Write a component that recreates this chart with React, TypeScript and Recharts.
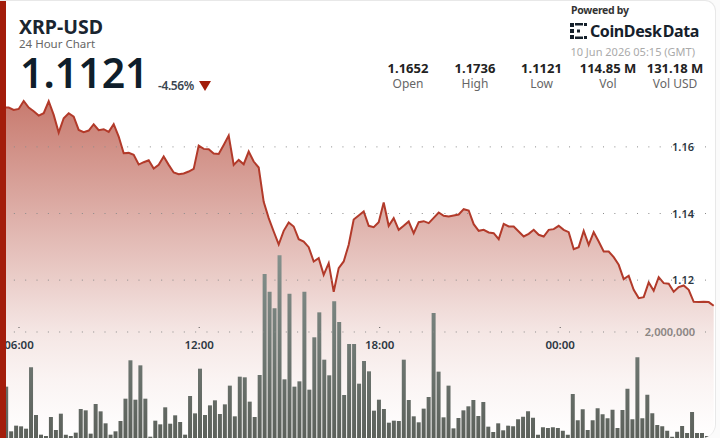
import React from 'react';
import {
  ComposedChart,
  Area,
  Bar,
  XAxis,
  YAxis,
  ReferenceLine,
} from 'recharts';

const prices = [
  1.1718, 1.1711, 1.1714, 1.1738, 1.1718, 1.1707, 1.1694, 1.1701, 1.1737, 1.1696,
  1.1643, 1.1686, 1.1701, 1.1691, 1.1651, 1.1644, 1.1649, 1.1668, 1.165, 1.1653,
  1.1645, 1.1668, 1.1631, 1.1581, 1.1582, 1.1576, 1.1547, 1.1554, 1.156, 1.1535,
  1.1546, 1.1571, 1.1546, 1.1523, 1.1518, 1.152, 1.1526, 1.1534, 1.1604, 1.1594,
  1.1593, 1.158, 1.1579, 1.1606, 1.1634, 1.1546, 1.1561, 1.1548, 1.1586, 1.1556,
  1.1538, 1.1435, 1.1386, 1.1346, 1.1307, 1.1348, 1.1373, 1.1361, 1.1323, 1.1316,
  1.1299, 1.1256, 1.1266, 1.1216, 1.1251, 1.1165, 1.1236, 1.1256, 1.1306, 1.1382,
  1.1394, 1.1406, 1.1363, 1.1359, 1.1374, 1.1433, 1.1363, 1.1386, 1.1351, 1.1363,
  1.1376, 1.1341, 1.1374, 1.1377, 1.1371, 1.1387, 1.1403, 1.1393, 1.1391, 1.1394,
  1.1397, 1.1413, 1.1409, 1.1368, 1.1348, 1.1351, 1.1343, 1.1341, 1.1323, 1.1369,
  1.1361, 1.1361, 1.1346, 1.1331, 1.1339, 1.1351, 1.1336, 1.1331, 1.1351, 1.1353,
  1.1363, 1.1351, 1.1344, 1.1293, 1.1299, 1.1348, 1.1306, 1.1344, 1.1316, 1.1286,
  1.1286, 1.1269, 1.1246, 1.1203, 1.1213, 1.1171, 1.1146, 1.1149, 1.1193, 1.1168,
  1.1209, 1.1191, 1.1189, 1.1165, 1.1179, 1.1184, 1.1171, 1.1135, 1.1134, 1.1135,
  1.1134, 1.1123,
];

const volumes = [
  969000, 126000, 233000, 220000, 176000, 1334000, 434000, 63000, 38000, 396000,
  151000, 459000, 63000, 38000, 101000, 547000, 522000, 82000, 642000, 503000,
  277000, 63000, 126000, 321000, 742000, 1466000, 723000, 1371000, 742000, 25000,
  327000, 258000, 579000, 270000, 428000, 302000, 63000, 793000, 465000, 1308000,
  434000, 616000, 711000, 453000, 635000, 988000, 409000, 1157000, 1145000, 686000,
  396000, 1189000, 3095000, 2761000, 2447000, 3447000, 1107000, 2724000, 969000, 1069000,
  2761000, 912000, 1900000, 2371000, 1478000, 1183000, 2579000, 2189000, 811000, 1774000,
  1774000, 1025000, 1453000, 1258000, 516000, 723000, 547000, 289000, 327000, 321000,
  1478000, 717000, 409000, 296000, 554000, 774000, 2359000, 1252000, 390000, 988000,
  182000, 377000, 522000, 598000, 717000, 415000, 679000, 214000, 113000, 277000,
  145000, 233000, 220000, 352000, 403000, 503000, 384000, 63000, 201000, 189000,
  201000, 189000, 138000, 63000, 830000, 333000, 541000, 151000, 333000, 560000,
  447000, 371000, 535000, 189000, 528000, 931000, 352000, 1522000, 371000, 818000,
  465000, 245000, 220000, 138000, 25000, 120000, 226000, 94000, 491000, 94000,
  94000, 38000,
];

const timeTicks = [2.06, 38.1, 74.2, 110.3];
const timeLabels = ['06:00', '12:00', '18:00', '00:00'];
const priceTicks = [1.12, 1.14, 1.16];
const volumeTicks = [2000000];

const stats = [
  { value: '1.1652', label: 'Open', center: 408 },
  { value: '1.1736', label: 'High', center: 475 },
  { value: '1.1121', label: 'Low', center: 541.5 },
  { value: '114.85 M', label: 'Vol', center: 608 },
  { value: '131.18 M', label: 'Vol USD', center: 675 },
];

// one lead-in row so the area reaches the red edge at the left
const chartData = [
  { t: -2, price: prices[0], volume: null as number | null },
  ...prices.map((price, i) => ({ t: i, price, volume: volumes[i] as number | null })),
];

const FONT = '"Noto Sans", sans-serif';
const RED = '#a31d0b';
const DOTS = '1 10.33';

// fade of the red fill
const fillStops = [
  { offset: '0%', opacity: 0.6 },
  { offset: '24%', opacity: 0.43 },
  { offset: '41%', opacity: 0.31 },
  { offset: '59%', opacity: 0.18 },
  { offset: '69%', opacity: 0.11 },
  { offset: '83%', opacity: 0.05 },
  { offset: '100%', opacity: 0 },
];

const TimeTick = ({ x, payload }: any) => {
  const label = timeLabels[timeTicks.indexOf(payload.value)];
  return (
    <g>
      <rect x={x - 0.5} y={327} width={1} height={1} fill="#555" />
      <text x={x} y={349} textAnchor="middle" fontFamily={FONT} fontSize={11.5} fontWeight={600} fill="#2c3742">
        {label}
      </text>
    </g>
  );
};

const PriceTick = ({ y, payload }: any) => (
  <text x={694} y={y + 4} textAnchor="end" fontFamily={FONT} fontSize={11} fontWeight={600} fill="#2c3742">
    {payload.value.toFixed(2)}
  </text>
);

const VolumeTick = ({ y, payload }: any) => (
  <text x={695} y={y + 4} textAnchor="end" fontFamily={FONT} fontSize={11} fontWeight={600} fill="#8b8583">
    {payload.value.toLocaleString('en-US')}
  </text>
);

const Logo = () => (
  <svg width={18} height={17} style={{ position: 'absolute', left: 570, top: 23 }}>
    <g fill="#15202b">
      <rect x={0} y={0} width={4} height={4} />
      <rect x={0} y={6} width={4} height={4} />
      <rect x={0} y={12} width={4} height={4} />
      <rect x={5} y={0} width={8} height={2.5} />
      <rect x={5} y={13.5} width={8} height={2.5} />
      <rect x={7} y={6.5} width={3} height={3} />
      <rect x={14} y={0} width={3} height={3} />
      <rect x={14} y={13} width={3} height={3} />
    </g>
  </svg>
);

const text = (style: React.CSSProperties): React.CSSProperties => ({
  position: 'absolute',
  fontFamily: FONT,
  whiteSpace: 'nowrap',
  lineHeight: 1,
  ...style,
});

export default function App() {
  return (
    <div style={{ position: 'absolute', left: 0, top: 0, width: 720, height: 438, overflow: 'hidden', background: '#fbfbfb' }}>
      <div
        style={{
          position: 'absolute',
          left: 0,
          top: 0,
          width: 716,
          height: 438,
          boxSizing: 'border-box',
          background: '#fff',
          border: '1px solid #e8e8e8',
          borderLeft: 'none',
          borderBottom: 'none',
          borderRadius: '0 11px 14px 0',
          overflow: 'hidden',
        }}
      >
        <div style={{ position: 'absolute', left: 0, top: -1 }}>
          <ComposedChart
            width={716}
            height={438}
            data={chartData}
            margin={{ top: 0, right: 0, bottom: 0, left: 0 }}
          >
            <defs>
              <linearGradient id="priceFill" x1="0" y1="0" x2="0" y2="1">
                {fillStops.map((s) => (
                  <stop key={s.offset} offset={s.offset} stopColor="#a3220f" stopOpacity={s.opacity} />
                ))}
              </linearGradient>
              <linearGradient id="volumeFill" gradientUnits="userSpaceOnUse" x1="0" y1="250" x2="0" y2="438">
                <stop offset="0%" stopColor="#85928e" />
                <stop offset="100%" stopColor="#5c615b" />
              </linearGradient>
            </defs>
            <XAxis
              xAxisId="bars"
              dataKey="t"
              type="number"
              domain={[-1.342, 142.72]}
              allowDataOverflow
              hide
            />
            <XAxis
              xAxisId="line"
              dataKey="t"
              type="number"
              orientation="top"
              mirror
              domain={[-1.74, 141.46]}
              allowDataOverflow
              ticks={timeTicks}
              interval={0}
              height={1}
              axisLine={false}
              tickLine={false}
              tick={<TimeTick />}
            />
            <YAxis
              yAxisId="price"
              orientation="right"
              mirror
              width={1}
              domain={[1.0726, 1.2041]}
              allowDataOverflow
              ticks={priceTicks}
              axisLine={false}
              tickLine={false}
              tick={<PriceTick />}
            />
            <YAxis
              yAxisId="volume"
              orientation="right"
              mirror
              width={1}
              domain={[0, 8264000]}
              allowDataOverflow
              ticks={volumeTicks}
              axisLine={false}
              tickLine={false}
              tick={<VolumeTick />}
            />
            <Bar
              xAxisId="bars"
              yAxisId="volume"
              dataKey="volume"
              fill="url(#volumeFill)"
              barSize={4}
              isAnimationActive={false}
            />
            <Area
              xAxisId="line"
              yAxisId="price"
              dataKey="price"
              type="linear"
              stroke="#b23a2a"
              strokeWidth={2}
              fill="url(#priceFill)"
              fillOpacity={1}
              dot={false}
              activeDot={false}
              isAnimationActive={false}
            />
            {priceTicks.map((v) => (
              <ReferenceLine
                key={v}
                xAxisId="line"
                yAxisId="price"
                y={v}
                stroke="#8a8a8a"
                strokeDasharray={DOTS}
                strokeDashoffset={-10}
              />
            ))}
            {volumeTicks.map((v) => (
              <ReferenceLine
                key={v}
                xAxisId="line"
                yAxisId="volume"
                y={v}
                stroke="#8a8a8a"
                strokeDasharray={DOTS}
                strokeDashoffset={-10}
              />
            ))}
          </ComposedChart>
        </div>
      </div>

      <div style={{ position: 'absolute', left: 0, top: 1, width: 6, height: 437, background: RED }} />

      <div style={text({ left: 19, top: 17, fontSize: 19.5, fontWeight: 700, color: '#1a2530' })}>XRP-USD</div>
      <div style={text({ left: 19, top: 38, fontSize: 11.5, color: '#666' })}>24 Hour Chart</div>
      <div style={text({ left: 20, top: 52, fontSize: 41, fontWeight: 600, color: '#0f1e2b' })}>1.1121</div>
      <div style={text({ left: 158, top: 80, fontSize: 12, fontWeight: 600, color: '#3a4550', letterSpacing: -0.4 })}>-4.56%</div>
      <div
        style={{
          position: 'absolute',
          left: 199,
          top: 81,
          width: 0,
          height: 0,
          borderLeft: '6px solid transparent',
          borderRight: '6px solid transparent',
          borderTop: `10px solid ${RED}`,
        }}
      />

      <div style={text({ left: 571, top: 5, fontSize: 10.5, fontWeight: 700, color: '#333', letterSpacing: -0.3 })}>Powered by</div>
      <Logo />
      <div style={text({ left: 590, top: 23, fontSize: 16, fontWeight: 700, color: '#15202b', letterSpacing: -0.4, wordSpacing: -2.5 })}>CoinDesk Data</div>
      <div style={text({ right: 25, top: 46, fontSize: 11, color: '#aaa' })}>10 Jun 2026 05:15 (GMT)</div>

      {stats.map((s) => (
        <React.Fragment key={s.label}>
          <div style={text({ left: s.center - 40, width: 80, textAlign: 'center', top: 62, fontSize: 13, fontWeight: 700, color: '#222' })}>{s.value}</div>
          <div style={text({ left: s.center - 40, width: 80, textAlign: 'center', top: 78, fontSize: 12, color: '#666' })}>{s.label}</div>
        </React.Fragment>
      ))}
    </div>
  );
}
